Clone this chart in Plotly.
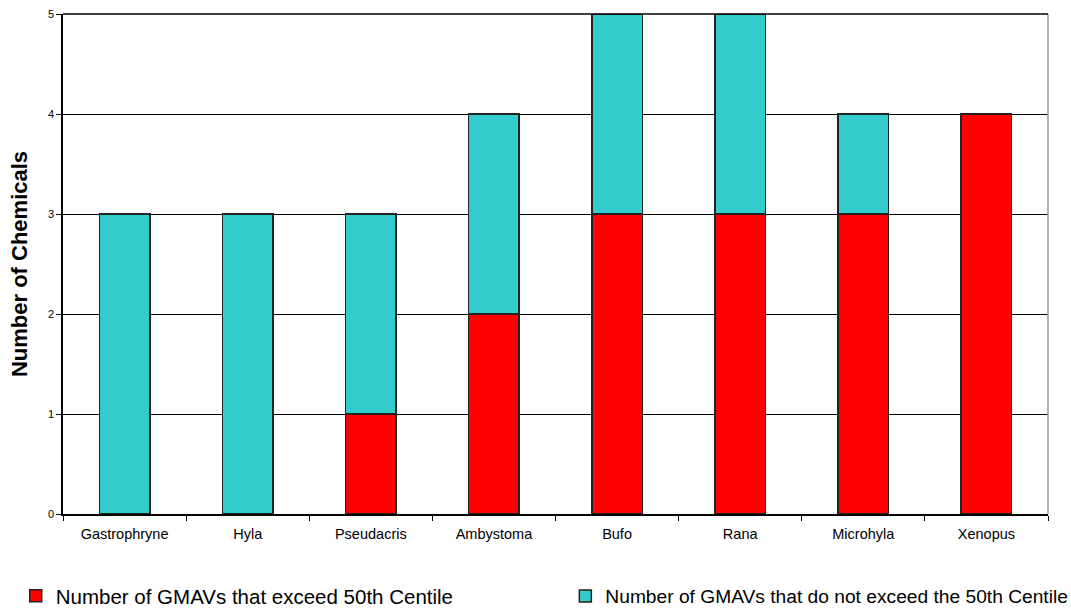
import plotly.graph_objects as go

genera = ["Gastrophryne", "Hyla", "Pseudacris", "Ambystoma", "Bufo", "Rana", "Microhyla", "Xenopus"]
exceed = [0, 0, 1, 2, 3, 3, 3, 4]
not_exceed = [3, 3, 2, 2, 2, 2, 1, 0]
y_ticks = [0, 1, 2, 3, 4, 5]

fig = go.Figure()
fig.add_trace(go.Bar(
    x=genera, y=exceed, name="Number of GMAVs that exceed 50th Centile",
    marker=dict(color="#FF0000", line=dict(color="#222222", width=1.5)),
    legend="legend",
))
fig.add_trace(go.Bar(
    x=genera, y=not_exceed, name="Number of GMAVs that do not exceed the 50th Centile",
    marker=dict(color="#33CCCC", line=dict(color="#222222", width=1.5)),
    legend="legend2",
))

legend_common = dict(
    orientation="h", xref="paper", yref="paper", yanchor="middle", xanchor="left",
    bgcolor="rgba(0,0,0,0)",
)

fig.update_layout(
    barmode="stack",
    bargap=0.59,
    width=1071, height=610,
    margin=dict(l=63, r=23, t=14, b=96, autoexpand=False),
    paper_bgcolor="white", plot_bgcolor="white",
    font=dict(family="Arial, Liberation Sans, sans-serif", color="black"),
    showlegend=True,
    legend=dict(x=-0.048, y=-0.164, font=dict(size=20.5), **legend_common),
    legend2=dict(x=0.51, y=-0.164, font=dict(size=19.2), **legend_common),
    xaxis=dict(
        showline=True, linecolor="black", linewidth=1.5,
        ticks="outside", ticklen=5, tickcolor="black",
        tickson="boundaries", tickfont=dict(size=14.5),
        ticklabelstandoff=6,
        automargin=False,
    ),
    yaxis=dict(
        range=[0, 5], tickvals=y_ticks,
        showline=True, linecolor="black", linewidth=1.5,
        ticks="outside", ticklen=5, tickcolor="black",
        tickfont=dict(size=11),
        showgrid=True, gridcolor="black", gridwidth=1,
        zeroline=False, automargin=False,
        title=dict(text="<b>Number of Chemicals</b>", font=dict(size=22), standoff=14),
    ),
)
# right border (gray) and top border (black)
fig.add_shape(type="line", xref="paper", yref="paper", x0=1, x1=1, y0=0, y1=1,
              line=dict(color="#999999", width=1.5))
fig.add_shape(type="line", xref="paper", yref="paper", x0=0, x1=1, y0=1, y1=1,
              line=dict(color="black", width=1.5))

fig.write_html("out.html", config={"displayModeBar": False},
               post_script="document.body.style.margin='0';")
